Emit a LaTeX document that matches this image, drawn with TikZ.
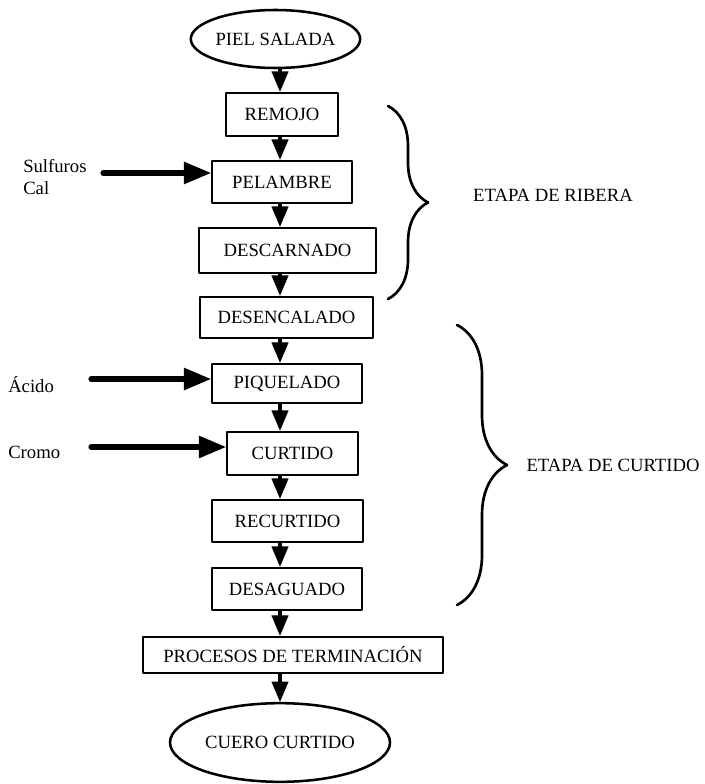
\documentclass[tikz,border=0pt]{standalone}
\usepackage{fontspec}
\setmainfont{Liberation Serif}
\usepackage{tikz}
\usetikzlibrary{shapes.geometric}
\usetikzlibrary{decorations.pathreplacing}
\usetikzlibrary{arrows}

\begin{document}
\begin{tikzpicture}[line cap=round,line join=round,>=triangle 45,x=0.75pt,y=-0.75pt,
  paso/.style={draw,line width=1.9pt,rectangle,inner sep=2pt,font=\fontsize{14}{16}\selectfont},
  extremo/.style={draw,line width=1.9pt,ellipse,inner sep=0pt,font=\fontsize{14}{16}\selectfont},
  rotulo/.style={font=\fontsize{14}{16}\selectfont,inner sep=0pt},
  flecha/.style={->,line width=2.6pt},
  entrada/.style={->,line width=3.8pt},
  llave/.style={decorate,line width=2pt}]
\useasboundingbox (0,0) rectangle (705,784);
%\draw[gray!30] (0,0) grid[step=50] (705,784);
\coordinate (eje) at (280,0);
\node[extremo,minimum width=116pt,minimum height=43.5pt] (piel) at (275.5,39) {PIEL SALADA};
\node[paso,minimum width=84pt,minimum height=32.25pt] (remojo) at (282,114.5) {REMOJO};
\node[paso,minimum width=105pt,minimum height=31.5pt] (pelambre) at (282,182) {PELAMBRE};
\node[paso,minimum width=132.75pt,minimum height=33.75pt] (descarnado) at (287.5,250.5) {DESCARNADO};
\node[paso,minimum width=129.75pt,minimum height=30.75pt] (desencalado) at (286.5,317.5) {DESENCALADO};
\node[paso,minimum width=112.5pt,minimum height=29.25pt] (piquelado) at (287,383.5) {PIQUELADO};
\node[paso,minimum width=98.25pt,minimum height=32.25pt] (curtido) at (292.5,453.5) {CURTIDO};
\node[paso,minimum width=113.25pt,minimum height=31.5pt] (recurtido) at (287.5,521) {RECURTIDO};
\node[paso,minimum width=112.5pt,minimum height=31.5pt] (desaguado) at (287,589) {DESAGUADO};
\node[paso,minimum width=225pt,minimum height=27pt] (procesos) at (293,655) {PROCESOS DE TERMINACIÓN};
\node[extremo,minimum width=165pt,minimum height=59pt] (cuero) at (280,742.5) {CUERO CURTIDO};
% flujo principal
\draw[flecha] (piel.south -| eje) -- (remojo.north -| eje);
\draw[flecha] (remojo.south -| eje) -- (pelambre.north -| eje);
\draw[flecha] (pelambre.south -| eje) -- (descarnado.north -| eje);
\draw[flecha] (descarnado.south -| eje) -- (desencalado.north -| eje);
\draw[flecha] (desencalado.south -| eje) -- (piquelado.north -| eje);
\draw[flecha] (piquelado.south -| eje) -- (curtido.north -| eje);
\draw[flecha] (curtido.south -| eje) -- (recurtido.north -| eje);
\draw[flecha] (recurtido.south -| eje) -- (desaguado.north -| eje);
\draw[flecha] (desaguado.south -| eje) -- (procesos.north -| eje);
\draw[flecha] (procesos.south -| eje) -- (cuero.north -| eje);
% insumos
\node[rotulo,anchor=west,align=left] (sulfuros) at (23,177) {Sulfuros\\Cal};
\node[rotulo,anchor=west] (acido) at (8,385) {Ácido};
\node[rotulo,anchor=west] (cromo) at (8,452) {Cromo};
\coordinate (insulf) at (103,173);
\coordinate (inacido) at (91,379);
\coordinate (incromo) at (91,447);
\draw[entrada] (insulf) -- (insulf -| pelambre.west);
\draw[entrada] (inacido) -- (inacido -| piquelado.west);
\draw[entrada] (incromo) -- (incromo -| curtido.west);
% etapas
\coordinate (ribera1) at (388,106);
\coordinate (ribera2) at (388,299);
\coordinate (curt1) at (457,325);
\coordinate (curt2) at (457,605);
\draw[llave,decoration={brace,amplitude=30pt}] (ribera1) -- (ribera2);
\draw[llave,decoration={brace,amplitude=37.5pt}] (curt1) -- (curt2);
\node[rotulo] (ribera) at (553,195) {ETAPA DE RIBERA};
\node[rotulo] (etcurtido) at (613,465) {ETAPA DE CURTIDO};
\end{tikzpicture}
\end{document}
